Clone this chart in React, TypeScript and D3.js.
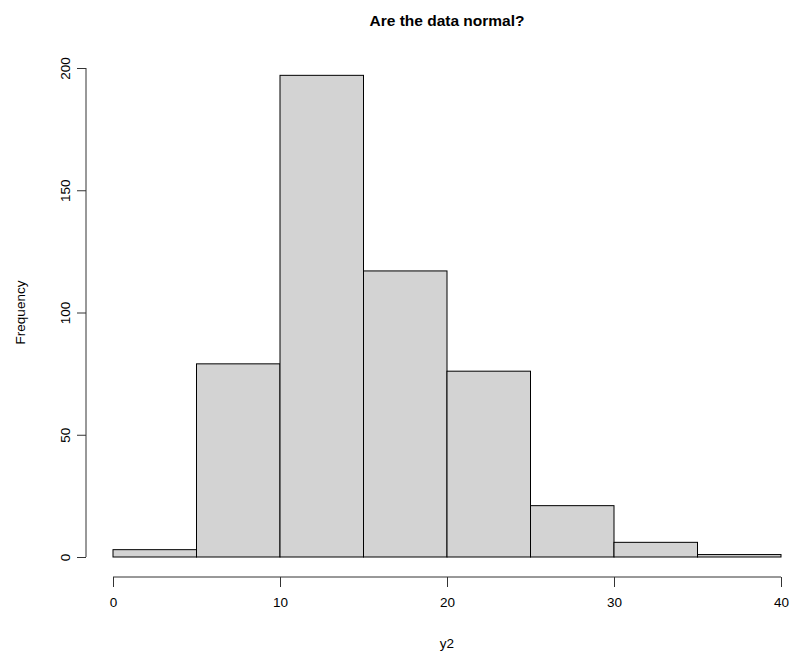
import React, { useRef, useEffect } from 'react';
import * as d3 from 'd3';

// histogram of y2
const breaks = [0, 5, 10, 15, 20, 25, 30, 35, 40];
const counts = [3, 79, 197, 117, 76, 21, 6, 1];
const xTicks = [0, 10, 20, 30, 40];
const yTicks = [0, 50, 100, 150, 200];

export default function App() {
  const svgRef = useRef<SVGSVGElement>(null);

  useEffect(() => {
    document.body.style.margin = '0';
    const width = 790;
    const height = 654;
    const font = 'Liberation Sans, Arial, Helvetica, sans-serif';

    const svg = d3.select(svgRef.current)
      .attr('width', width)
      .attr('height', height);
    svg.selectAll('*').remove();

    // scales (pixel positions)
    const x = d3.scaleLinear().domain([0, 40]).range([113, 781]);
    const y = d3.scaleLinear().domain([0, 200]).range([557, 68]);

    const bins = counts.map((c, i) => ({ x0: breaks[i], x1: breaks[i + 1], n: c }));

    // bars
    svg.append('g')
      .selectAll('rect')
      .data(bins)
      .enter()
      .append('rect')
      .attr('x', d => x(d.x0))
      .attr('y', d => y(d.n))
      .attr('width', d => x(d.x1) - x(d.x0))
      .attr('height', d => y(0) - y(d.n))
      .attr('fill', '#d3d3d3')
      .attr('stroke', '#000')
      .attr('stroke-width', 1);

    // x-axis
    const xAxis = svg.append('g')
      .attr('transform', 'translate(0,577)')
      .call(d3.axisBottom(x).tickValues(xTicks).tickSize(10).tickPadding(10).tickSizeOuter(0));
    xAxis.select('.domain').attr('stroke', '#333').attr('d', `M${x(0)},0H${x(40)}`);
    xAxis.selectAll('line').attr('stroke', '#333');
    xAxis.selectAll('text')
      .style('font-family', font)
      .style('font-size', '13.5px')
      .attr('fill', '#000');

    // y-axis
    const yAxis = svg.append('g')
      .attr('transform', 'translate(86,0)')
      .call(d3.axisLeft(y).tickValues(yTicks).tickSize(9).tickSizeOuter(0));
    yAxis.select('.domain').attr('stroke', '#333').attr('d', `M0,${y(0)}V${y(200)}`);
    yAxis.selectAll('line').attr('stroke', '#333');
    yAxis.selectAll('text')
      .attr('x', null)
      .attr('y', 0)
      .attr('dy', null)
      .attr('text-anchor', 'middle')
      .attr('transform', 'translate(-16,0) rotate(-90)')
      .style('font-family', font)
      .style('font-size', '13.5px')
      .attr('fill', '#000');

    // title
    svg.append('text')
      .attr('x', 447)
      .attr('y', 26)
      .attr('text-anchor', 'middle')
      .style('font-family', font)
      .style('font-size', '15.5px')
      .style('font-weight', 'bold')
      .text('Are the data normal?');

    // x title
    svg.append('text')
      .attr('x', 447)
      .attr('y', 648)
      .attr('text-anchor', 'middle')
      .style('font-family', font)
      .style('font-size', '13.5px')
      .text('y2');

    // y title
    svg.append('text')
      .attr('transform', `translate(25,${y(100)}) rotate(-90)`)
      .attr('text-anchor', 'middle')
      .style('font-family', font)
      .style('font-size', '13.5px')
      .text('Frequency');
  }, []);

  return <svg ref={svgRef} style={{ display: 'block', background: '#fff' }}></svg>;
}
